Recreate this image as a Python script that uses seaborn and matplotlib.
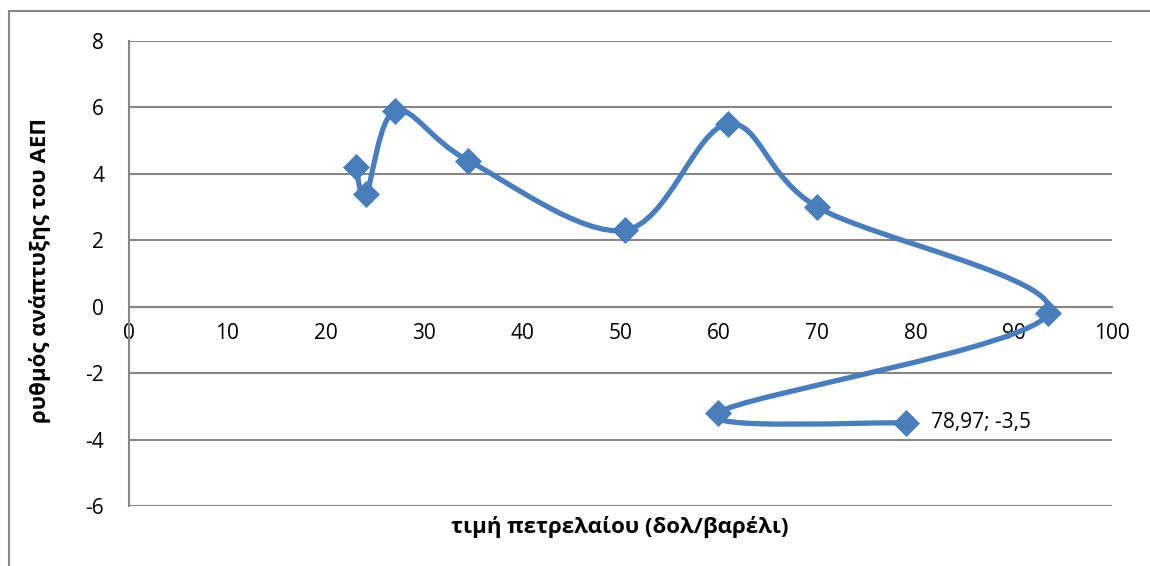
import numpy as np
import pandas as pd
import seaborn as sns
import matplotlib.pyplot as plt
from matplotlib.path import Path
from matplotlib.patches import PathPatch, Rectangle

oil_price = [23.1, 24.1, 27.1, 34.5, 50.4, 60.9, 70.0, 93.5, 59.9, 78.97]
gdp_growth = [4.2, 3.4, 5.9, 4.4, 2.3, 5.5, 3.0, -0.2, -3.2, -3.5]
x_ticks = [0, 10, 20, 30, 40, 50, 60, 70, 80, 90, 100]
y_ticks = [-6, -4, -2, 0, 2, 4, 6, 8]
x_title = "τιμή πετρελαίου (δολ/βαρέλι)"
y_title = "ρυθμός ανάπτυξης του ΑΕΠ"
last_label = "78,97; -3,5"

blue = "#4A7EBB"
grey = "#868686"

sns.set_style("white")
plt.rcParams["font.family"] = ["Open Sans", "DejaVu Sans"]

df = pd.DataFrame({"x": oil_price, "y": gdp_growth})

fig = plt.figure(figsize=(11.5, 5.66), dpi=100)
ax = fig.add_axes([0.1122, 0.106, 0.855, 0.8216])

# outer chart frame (only left/top edges fall inside the picture)
fig.patches.append(Rectangle((9 / 1150, -0.1), 1.2, 1.1 - 11 / 566, transform=fig.transFigure,
                             fill=False, edgecolor=grey, linewidth=1.5))

# spine placement first, it resets the tick settings
for side in ["top", "right"]:
    ax.spines[side].set_visible(False)
ax.spines["bottom"].set_position(("data", 0))
ax.spines["left"].set_color(grey)
ax.spines["left"].set_linewidth(1.5)
ax.spines["bottom"].set_color(grey)
ax.spines["bottom"].set_linewidth(1.5)

# smoothed line like Excel: Catmull-Rom as cubic Bezier segments
pts = df[["x", "y"]].to_numpy()
n = len(pts)
verts = [tuple(pts[0])]
codes = [Path.MOVETO]
for i in range(n - 1):
    p0 = pts[max(i - 1, 0)]
    p1 = pts[i]
    p2 = pts[i + 1]
    p3 = pts[min(i + 2, n - 1)]
    c1 = p1 + (p2 - p0) / 6
    c2 = p2 - (p3 - p1) / 6
    verts += [tuple(c1), tuple(c2), tuple(p2)]
    codes += [Path.CURVE4] * 3
ax.add_patch(PathPatch(Path(verts, codes), fill=False, edgecolor=blue, linewidth=3.8,
                       capstyle="round", joinstyle="round", zorder=3))

sns.scatterplot(data=df, x="x", y="y", marker="D", s=190, color=blue, edgecolor=blue,
                linewidth=0, ax=ax, zorder=4)

ax.annotate(last_label, (oil_price[-1], gdp_growth[-1]), xytext=(18, 0), textcoords="offset points",
            fontsize=15, va="center", ha="left", color="black")

ax.set_xlim(0, 100)
ax.set_ylim(-6, 8)
ax.set_xticks(x_ticks)
ax.set_yticks(y_ticks)
ax.set_xticklabels([str(t) for t in x_ticks])
ax.set_yticklabels([str(t) for t in y_ticks])
ax.tick_params(axis="both", length=0, labelsize=15, labelcolor="black")
ax.tick_params(axis="y", pad=18)
ax.tick_params(axis="x", pad=12)

ax.grid(axis="y", color=grey, linewidth=1.5)
ax.grid(axis="x", visible=False)
ax.set_axisbelow(True)

ax.set_xlabel("")
ax.set_ylabel("")
fig.text(620 / 1150, 1 - 527 / 566, x_title, fontsize=16, fontweight="bold", ha="center", va="center",
         color="black")
fig.text(40 / 1150, 1 - 270 / 566, y_title, fontsize=16, fontweight="bold", ha="center", va="center",
         rotation=90, color="black")

fig.savefig("out.png", dpi=100)
